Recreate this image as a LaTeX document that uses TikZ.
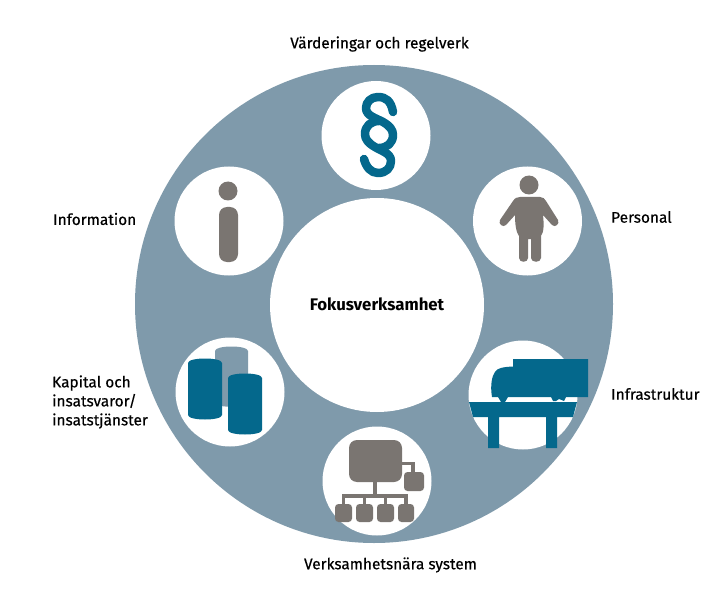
\documentclass[tikz,border=0pt]{standalone}
\usepackage{fontspec}
\setmainfont{Fira Sans}
\definecolor{ringc}{HTML}{7F9AAB}
\definecolor{teal}{HTML}{04688C}
\definecolor{stone}{HTML}{7A7571}
\tikzset{
  disc/.style={circle,fill=white,draw=none,minimum size=#1,inner sep=0pt},
  lab/.style={font=\fontsize{15.4}{19}\selectfont\addfontfeatures{FakeBold=0.4},align=left,inner sep=0pt},
  tealfill/.style={fill=teal,draw=none},
  stonefill/.style={fill=stone,draw=none},
  stonebox/.style={fill=stone,draw=none,rounded corners=3.5pt},
  stoneline/.style={draw=stone,line width=3.5pt},
  barrel/.style={fill=#1,draw=none},
}
\begin{document}
\begin{tikzpicture}[x=1pt,y=-1pt]
\useasboundingbox (0,0) rectangle (726,599);
\fill[white] (0,0) rectangle (726,599);
\node[disc=478pt,fill=ringc] (ring) at (374,304) {};
\node[disc=214pt] (focus) at (377,305) {};
\node[disc=109pt] (dtop) at (376,135.5) {};
\node[disc=109pt] (dpers) at (527.5,221) {};
\node[disc=109pt] (dinfra) at (523,395) {};
\node[disc=109pt] (dsys) at (377,481) {};
\node[disc=109pt] (dcap) at (230,392) {};
\node[disc=109pt] (dinfo) at (229,221) {};

% section sign
\begin{scope}[draw=teal,line width=8.5pt,line cap=round,line join=round]
\draw (393,112) .. controls (391,101) and (386,97) .. (378,97)
  .. controls (371,97) and (366,102) .. (366,108)
  .. controls (366,116) and (376,118) .. (383,122)
  .. controls (390,126) and (393,130) .. (393,135)
  .. controls (393,143) and (387,148) .. (379,148);
\draw (364,159) .. controls (366,167) and (371,173) .. (378,173)
  .. controls (386,173) and (391,168) .. (391,161)
  .. controls (391,153) and (381,151) .. (375,147)
  .. controls (368,143) and (365,139) .. (365,134)
  .. controls (365,126) and (371,121) .. (379,121);
\end{scope}

% person
\fill[stonefill] (529,185) circle (9.5);
\fill[stonefill] (520,197) -- (540,197)
  .. controls (543,197) and (545,199) .. (546,201)
  -- (558,220) .. controls (560,224) and (555,228) .. (552,225)
  -- (543,215) .. controls (544,224) and (544,232) .. (541,236)
  -- (541,258) .. controls (541,263) and (531,263) .. (531,258)
  -- (531,239) -- (528,239) -- (528,258)
  .. controls (528,263) and (519,263) .. (519,258)
  -- (519,236) .. controls (516,232) and (515,224) .. (515,215)
  -- (506,225) .. controls (503,228) and (498,224) .. (500,220)
  -- (513,201) .. controls (515,198) and (517,197) .. (520,197) -- cycle;

% information
\fill[stonefill] (228,191) circle (9.5);
\fill[stonefill,rounded corners=8pt] (219,207) rectangle (238,262);

% truck on a bridge
\fill[tealfill] (513,359) -- (588,359) -- (588,397) -- (566,397)
  -- (564,401) -- (559,399) -- (556,401) -- (553,401) -- (551,397)
  -- (508,397) -- (505,402) -- (501,402) -- (498,397)
  -- (492,397) .. controls (490,385) and (492,376) .. (495,372)
  .. controls (497,368) and (503,367) .. (513,366.5) -- cycle;
\fill[tealfill] (469,402) -- (577,402) -- (573,417) -- (557,417) -- (557,448)
  -- (546,448) -- (546,417) -- (499,417) -- (499,448) -- (488,448)
  -- (488,417) -- (473,417) -- cycle;

% barrels
\fill[barrel=ringc] (215,351) .. controls (215,345) and (248,345) .. (248,351)
  -- (248,403) .. controls (248,408) and (215,408) .. (215,403) -- cycle;
\fill[barrel=teal] (188,363) .. controls (188,357) and (222,357) .. (222,363)
  -- (222,415) .. controls (222,421) and (188,421) .. (188,415) -- cycle;
\fill[barrel=teal] (228,378) .. controls (228,372) and (262,372) .. (262,378)
  -- (262,430) .. controls (262,436) and (228,436) .. (228,430) -- cycle;

% system tree
\fill[stonebox,rounded corners=8pt] (349,440) rectangle (402,482);
\draw[stoneline] (400,463.5) -- (413,463.5) -- (413,474);
\draw[stoneline] (375,480) -- (375,496);
\draw[stoneline] (343.5,506) -- (343.5,496) -- (406,496) -- (406,506);
\draw[stoneline] (364.5,496) -- (364.5,506);
\draw[stoneline] (385.5,496) -- (385.5,506);
\fill[stonebox] (404,472) rectangle (424,491);
\fill[stonebox] (335,504) rectangle (352,522);
\fill[stonebox] (356,504) rectangle (373,522);
\fill[stonebox] (377,504) rectangle (394,522);
\fill[stonebox] (398,504) rectangle (414,522);

% labels
\node[lab] (ltop) at (379.5,44) {Värderingar och regelverk};
\node[lab,anchor=west] (lpers) at (611,217) {Personal};
\node[lab,anchor=west] (linfra) at (611,394) {Infrastruktur};
\node[lab] (lsys) at (390.5,565) {Verksamhetsnära system};
\node[lab,anchor=west] (lcap) at (52,402) {Kapital och\\insatsvaror/\\insatstjänster};
\node[lab,anchor=west] (linfo) at (53,219) {Information};
\node[lab,font=\fontsize{16.8}{19}\selectfont\bfseries] (lfocus) at (377,304) {Fokusverksamhet};
\end{tikzpicture}
\end{document}
